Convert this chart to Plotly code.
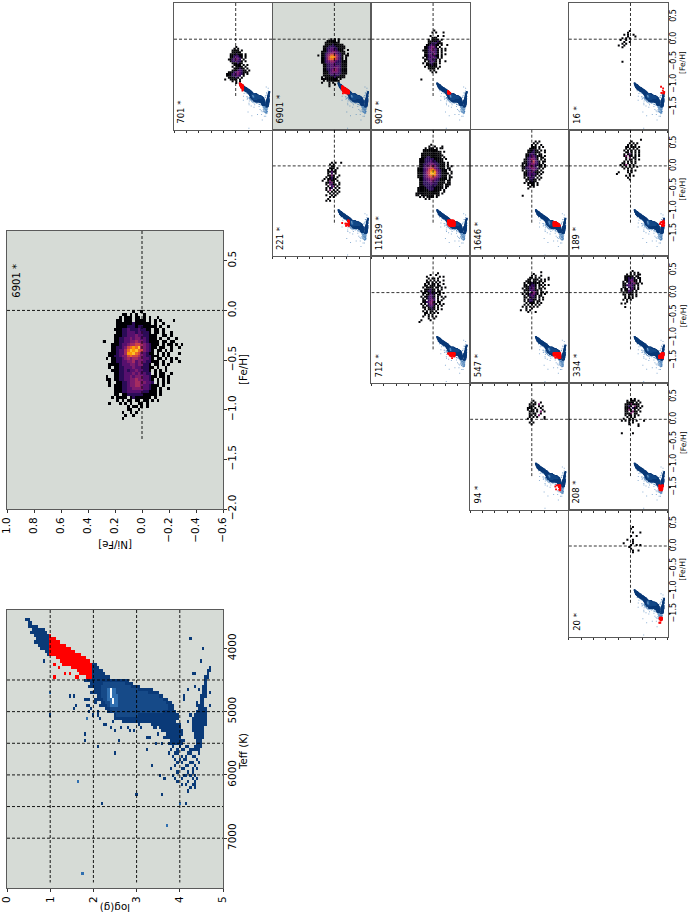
import plotly.graph_objects as go

# HR diagram, giant branch: logg range per Teff row
band_teff = [3550, 3600, 3650, 3700, 3750, 3800, 3850, 3900, 3950, 4000, 4050, 4100, 4150, 4200, 4250, 4300, 4350,
             4400, 4450, 4500, 4550, 4600, 4650, 4700, 4750, 4800, 4850, 4900, 4950, 5000, 5050, 5100, 5150, 5200,
             5250, 5300, 5350, 5400, 5450, 5500]
band_lo = [0.45, 0.50, 0.50, 0.58, 0.55, 0.62, 0.70, 0.65, 0.75, 0.80, 0.90, 0.95, 1.15, 1.25, 1.35, 1.50, 1.65,
           1.70, 1.85, 1.80, 1.95, 1.90, 2.05, 2.00, 2.10, 2.05, 2.20, 2.15, 2.30, 2.35, 2.50, 2.50, 2.70, 3.35,
           3.55, 3.60, 3.70, 3.65, 3.80, 3.75]
band_hi = [0.50, 0.55, 0.70, 0.85, 0.90, 1.00, 1.10, 1.20, 1.35, 1.45, 1.55, 1.70, 1.80, 1.90, 2.05, 2.10, 2.20,
           2.25, 2.35, 2.80, 2.90, 3.05, 3.35, 3.50, 3.60, 3.70, 3.80, 3.85, 3.85, 3.90, 3.95, 3.95, 3.90, 4.00,
           4.00, 4.05, 4.05, 4.00, 4.10, 4.05]

# dwarf branch
dwarf_teff = [4300, 4350, 4400, 4450, 4500, 4550, 4600, 4650, 4700, 4750, 4800, 4850, 4900, 4950, 5000, 5050, 5100,
              5150, 5200, 5250, 5300, 5350, 5400, 5450, 5500, 5550, 5600]
dwarf_lo = [4.68, 4.64, 4.62, 4.60, 4.58, 4.57, 4.55, 4.53, 4.52, 4.50, 4.50, 4.50, 4.45, 4.42, 4.38, 4.33, 4.30,
            4.30, 4.30, 4.30, 4.30, 4.32, 4.35, 4.38, 4.38, 4.35, 4.25]
dwarf_hi = [4.72, 4.72, 4.68, 4.66, 4.64, 4.63, 4.62, 4.62, 4.60, 4.60, 4.58, 4.58, 4.58, 4.60, 4.60, 4.60, 4.62,
            4.60, 4.60, 4.58, 4.58, 4.55, 4.55, 4.52, 4.50, 4.50, 4.45]

# denser parts of the giant branch
mid_teff = [4550, 4600, 4650, 4700, 4750, 4800, 4850, 4900, 4950, 5000, 5050]
mid_lo = [2.25, 2.20, 2.20, 2.20, 2.20, 2.25, 2.30, 2.35, 2.40, 2.45, 2.55]
mid_hi = [2.70, 2.85, 3.00, 3.25, 3.50, 3.60, 3.65, 3.70, 3.70, 3.60, 3.00]
peak_teff = [4650, 4700, 4750, 4800, 4850, 4900]
peak_lo = [2.35, 2.33, 2.33, 2.35, 2.38, 2.40]
peak_hi = [2.50, 2.52, 2.55, 2.55, 2.55, 2.55]
clump_teff = [4650, 4700, 4750, 4800, 4850]
clump_logg = [2.40, 2.40, 2.40, 2.45, 2.45]

# isolated stars
out_logg = [2.19, 3.00, 3.58, 4.17, 2.50, 2.60, 2.10, 1.80, 1.78, 4.25, 4.53, 4.52, 4.18,
            4.39, 4.12, 4.31, 4.70, 1.53, 1.46, 1.57, 1.61, 1.80, 1.88, 1.92, 0.98, 0.84, 1.09, 2.00,
            2.11, 2.16, 2.30, 2.46, 2.60, 2.80, 2.96, 3.08, 3.23, 3.43, 3.23, 3.31, 3.46, 3.60, 3.23, 3.37, 3.54,
            3.67, 3.81, 3.89, 3.77, 3.92, 4.04, 4.16, 4.27, 4.39, 4.35, 4.20,
            1.84, 1.90, 1.83, 1.94, 1.96, 2.04, 2.10, 2.15, 2.23, 2.38, 2.50, 2.65, 2.87, 3.06, 3.25, 3.38, 3.50,
            3.64, 4.35, 4.36, 4.10, 4.43, 4.72, 4.72, 4.39, 4.27, 4.20, 4.31,
            1.12, 1.20, 1.28, 1.35, 1.45, 1.58, 1.65,
            3.85, 4.00, 4.15, 4.20, 4.40, 3.80, 3.95, 4.05, 4.10, 4.30, 4.35, 3.90, 3.95, 4.20, 4.25, 4.45, 3.85,
            4.05, 4.15, 4.30, 4.35, 4.00, 4.10, 4.15, 4.40, 3.95, 4.05, 4.25, 4.30, 4.45, 3.90, 4.15, 4.20, 4.35,
            4.05, 4.10, 4.30, 4.40, 3.95, 4.20, 4.30, 3.85, 4.10, 4.15, 4.35, 4.05, 4.30, 4.40, 3.95, 4.20, 4.35,
            4.15, 4.30, 4.25, 4.35]
out_teff = [6440, 6310, 6310, 6470, 5670, 5460, 5560, 5460, 5330, 3870, 3980, 4220, 4630,
            4880, 4800, 4380, 4700, 4960, 4750, 4760, 4900, 4800, 4905, 4985, 5060, 4200, 4450, 5040,
            5000, 5100, 5210, 5160, 5110, 5240, 5290, 5270, 5160, 5240, 5400, 5420, 5480, 5510, 5610, 5870, 5980,
            6070, 5900, 5770, 5660, 6060, 6140, 6170, 5990, 6060, 6170, 6250,
            4800, 4815, 4900, 4710, 4940, 4850, 5030, 5120, 5190, 5240, 5295, 5270, 5320, 5215, 5400, 5240, 5370,
            5160, 4420, 4580, 4765, 4660, 4715, 4925, 4845, 5030, 5130, 5290,
            4230, 4300, 4260, 4390, 4400, 4430, 4470,
            5550, 5550, 5550, 5550, 5550, 5600, 5600, 5600, 5600, 5600, 5600, 5650, 5650, 5650, 5650, 5650, 5700,
            5700, 5700, 5700, 5700, 5750, 5750, 5750, 5750, 5800, 5800, 5800, 5800, 5800, 5850, 5850, 5850, 5850,
            5900, 5900, 5900, 5900, 5950, 5950, 5950, 6000, 6000, 6000, 6000, 6050, 6050, 6050, 6100, 6100, 6100,
            6150, 6150, 6200, 6200]
pale_logg = [1.77, 1.65, 3.98, 3.68, 1.00, 1.83]
pale_teff = [7540, 6090, 6470, 6800, 4700, 5120]

# abundance histograms, one string per [Fe/H] bin, level 1-9, blank = empty
grid_big = [
    "           1  1                 ",
    "       11 1 1  1                ",
    "      1 111 11 1 1  1           ",
    "     11 111 1111 1 1 1    1     ",
    "     1111112111111 1  1         ",
    "     111122212211111 1  1       ",
    "    11122322232211 11 1         ",
    "     1122333233221 11 1  1      ",
    "    1112233343322111  11 1      ",
    "    1122334344332111 1  1  1    ",
    "1   11223344544321111 11 11     ",
    "   111233455665432111 1 11 1 1  ",
    "   11223467879543211 11  1  1   ",
    "   1123357989764321 11 1 1      ",
    "  11123358897643211 1 1 1   1   ",
    "  1122344676654322111 1 1       ",
    " 1 1122345455443321 11 1 1 1    ",
    "   112233445344322111 1  1  1   ",
    "  1111233344344221 11 1 1       ",
    "  1 112233343332211 1  1        ",
    "   111223233433221 1 1 1        ",
    "    11223334343322 1 11  1      ",
    " 1  1122334344433211 11 1       ",
    " 11 112233445443321 1 1 1       ",
    "  1  11223445544332 1 1 1       ",
    "  1 11122344554332111 1         ",
    "    1112233444433211 1  1       ",
    "    1112233333322111 1          ",
    "    11 1122222211111 1          ",
    "   1 1111 12111111 1            ",
    "     1 1 11 11 11 1 1           ",
    "  1   1 1 1  11 1               ",
    "         1 11 1 1               ",
    "         11  1                  ",
    "       1  1 1                   ",
    "        1  1                    ",
    "       1                        ",
]
grid_701 = [
    "      1       ", "     1 1      ", "    1111 1    ", "    11111     ", "   1112111 1  ",
    "   1123211 1  ", "   1123321 1  ", "  1123432 1   ", "   1223221 1  ", "    111211    ",
    "     1111 1 1 ", "    1 1111 1  ", "     111211 1 ", "    11123211 1", "  11123432111 ",
    " 1112334321 1 ", " 11122332 1   ", "  111121 1    ", "1  1111 1     ", "    1 1 1     ",
    "      1       ",
]
grid_6901 = [
    "       1 1 1     ", "     11111 1     ", "    11111111     ", "    1111211111   ", "   111222211111  ",
    "   112233221111  ", "   11233332111  1", "  1112334432111  ", "  1123455432211 1", "1 112457765321 11",
    "  112468875321 1 ", "  112467765321 1 ", "  11234554322111 ", "  11233443222111 ", "   1122333222111 ",
    "   1122333332111 ", "   1122334432111 ", "   1122345432111 ", "   1112344432111 ", "   1112333322111 ",
    "   111122222111  ", "  1 11111211111  ", "  111111111 1    ", "   1 1111111     ", "  1   1 1  1     ",
    "      1  1       ", "      1          ",
]
grid_907 = [
    "       1       ", "      1 1   1  ", "               ", "     1   1  1  ", "      111      ",
    "    1 1111 1   ", "    1111121    ", "    11222111   ", "   1123211 1  1", "  1123431 1    ",
    "  11234321 1 1 ", " 111234321 1 1 ", "  11223321 1   ", "  11232421 1 1 ", "  11233211 1   ",
    " 1 1223321 1   ", "  1123221 1    ", "  1 12321 1  1 ", " 1 112211 1    ", "   111211      ",
    "  1 11111 1    ", "    1111 1     ", "     1 1       ", "      1 1      ", "               ",
    "               ", "               ", "1              ",
]
grid_16 = [
    "      1   ", "     1    ", "   1 1  1 ", "     1   1", "  1 1 1   ", " 1  1     ", "   1  1   ",
    "  1 1     ", "1  1      ", "  1       ", "          ", "          ", "          ", "          ",
    "          ", "          ", "          ", "  1       ",
]
grid_221 = [
    "     1 1  1", "    1 1    ", "     11    ", "    111 1  ", "   1 1 1   ", "   11311   ",
    "   1 2 1   ", "   1141  1 ", "  1 121 1  ", " 1 11211   ", "1  1411 1  ", "  11241  1 ",
    "  1 4211 1 ", "   1 24 1  ", "  1 12 1 1 ", "  1 4 1 1  ", "   1 1 1 1 ", "    1 1 1  ",
    "  1  1 1   ", "    1 1    ", "   1       ", "  1 1      ",
]
grid_11639 = [
    "        1           ", "       1  1   1     ", "     1 111 1 11     ", "    11111111        ",
    "    1111111111 1    ", "   11111111111      ", "   111111111111     ", "   11122111111 1    ",
    "  1112222211111 1   ", "  1112223221111     ", "  11122333221111 1  ", "  11223344322111 1  ",
    "  11233454432111 1 1", " 111234566432111 11 ", " 1112346786432111 1 ", " 1112356898532111  1",
    " 11123569985321111 1", " 1112346787532111 1 ", " 1112345665432111 11", "  112334554321111 1 ",
    "  11223344322111 11 ", "  11222333221111 11 ", "  1122223222111 111 ", "  1112222221111 11  ",
    " 11111222211111 1   ", " 1111112221111 1    ", " 111111111111  1    ", "1111111111111 1     ",
    "11 1111111 11       ", "  1 1 1111 1        ", "     1 1            ",
]
grid_1646 = [
    "        1 1    ", "       1 1     ", "      1 1  1   ", "      111 1 1  ", "     1111 1    ",
    "    111211 1 1 ", "    1122111  1 ", "   112321 11   ", "   112432111 1 ", "   1233421 11  ",
    "  11235431 1 1 ", "  112346321 11 ", " 1112345321 1  ", " 1 123442211 1 ", " 11234532 11 1 ",
    " 1122344321 1  ", " 1 1223421 1   ", "  112342111 1  ", "  11232321 1   ", "  1123221 1    ",
    "  1 1232 1 1   ", "   112211 1    ", "   1 1211      ", "  1 1111 1     ", "    1 11 1     ",
    "     1 1       ", "    1          ", "               ", "               ", "               ",
    " 1             ",
]
grid_189 = [
    "             1 ", "        1      ", "       1 1 1   ", "      1 1 1    ", "     11 111 1  ",
    "     1 1 1 1   ", "    1 1 1 1 1  ", "     11 1 1 1  ", "    1 131 1 1  ", "    14 11 1 1  ",
    "     1 4 11    ", "     1 11 1 1  ", "    1 1 1 1    ", "   11 1 1 1    ", "  1 14 1 1     ",
    "   1 1 1 1 1   ", "    1 1 1      ", "      1 1 1    ", " 1    1 1      ", "1      1       ",
    "     1 1 1     ", "      1        ", "       1       ",
]
grid_712 = [
    "          1    ", "      1  1     ", "    1      1 1 ", "     1 11 1    ", "    1 1 1 1  1 ",
    "    11 1 1 1   ", "   1 1 11 1  1 ", "   11 111 11   ", "  1 1111 11 1 1", "   111211 1 1  ",
    " 1 112211 11   ", "  11 12121 1 1 ", "  1 11321 11   ", " 1 112321 1 1 1", "  1 12332 1  1 ",
    "  11 2342 1 1  ", "  1123441 11   ", " 1 1 24421 1 1 ", "  1 12331 1 1  ", "  11 1221 1    ",
    "   1 1121 1 1  ", "  1 1 11 1     ", "   11 1 1 1    ", "   1 1 1       ", "  1  1 1 1     ",
    "     1  1      ", " 1    1        ", "1              ",
]
grid_547 = [
    "           1     ", "       1         ", "      1 1  1     ", "     11 1 1    1 ", "    11 111 1 1 1 ",
    "   111 11 11 1   ", "  1 1121111 1    ", "  11 1221 11 1 1 ", "  1112321 1 1    ", " 1 112331 11 1   ",
    "  11123211 1     ", "  1 1 2431 11 1  ", " 1 1123421 1 1   ", "  1 12321 11     ", "  11 1321 1 1    ",
    "  1 12211 1 1    ", "  1 1221 11      ", "   1 111 1 1     ", "  1 1 1 1 1      ", " 1 1 1 1 1       ",
    "   1  1          ", "1  1 1           ", "    1   1        ",
]
grid_334 = [
    "      1     ", "     1 1 1  ", "   1 1 1 11 ", "  11111 11  ", "  112121 11 ", "  1123311 1 ",
    " 1 123411 1 ", " 11 232411 1", " 1123321 1  ", " 11 2321 1  ", "1 11 231 1  ", "1 11321 1   ",
    " 1 1221 1   ", " 11 111 1   ", "  1 1 1 1   ", "  1 1 1     ", " 1 1 1      ", "   1        ",
    "1 1         ", "            ", "  1         ",
]
grid_94 = [
    "     1      ", "    1 1  1  ", "   1 11 4   ", "   111  1 1 ", "  111 1  1  ", "  1 11 1  1 ",
    "   111 1 4 1", "   1 11  1  ", "   11 1 4   ", "   1 1 1   1", "  1 1      1", "    1       ",
    "   1 1      ", "    1       ",
]
grid_208 = [
    "      1 1     ", "    1 111 1   ", "    1111 1 1  ", "   11141111   ", "   1121 411 1 ", "   111 211 1  ",
    "   1141 1 1   ", "   11 1411 1  ", "   1114 11    ", "   1 11 1 1   ", "    1 1 1     ", "  1  1 1      ",
    " 1 1 1 1 1   1", "     1 1      ", "     1    1   ", "          1   ", "              ", "              ",
    "              ", " 1     1      ",
]
grid_20 = [
    "      1     ", "     1      ", "            ", "      1   1 ", "            ", "     1  1   ",
    "            ", "   1  1     ", "      1     ", " 1    1     ", "     1  1 1 ", "    1       ",
    "     1      ", "      1  1  ", "      1     ",
]

# one entry per small panel
panel_labels = ["701 *", "6901 *", "907 *", "16 *", "221 *", "11639 *", "1646 *", "189 *",
                "712 *", "547 *", "334 *", "94 *", "208 *", "20 *"]
panel_logg_lo = [0, 1, 2, 4, 1, 2, 3, 4, 2, 3, 4, 3, 4, 4]
panel_teff_lo = [3000, 3000, 3000, 3000, 4500, 4500, 4500, 4500, 5000, 5000, 5000, 5500, 5500, 6000]
panel_grids = [grid_701, grid_6901, grid_907, grid_16, grid_221, grid_11639, grid_1646, grid_189,
               grid_712, grid_547, grid_334, grid_94, grid_208, grid_20]
grid_nife_left = [0.17, 0.26, 0.19, 0.19, 0.19, 0.27, 0.177, 0.22, 0.22, 0.177, 0.145, 0.123, 0.17, 0.14]
grid_feh_top = [-0.17, 0.0, 0.19, 0.18, 0.07, 0.47, 0.54, 0.58, 0.43, 0.45, 0.48, 0.41, 0.45, 0.42]

teff_grid_lines = [4500, 5000, 5500, 6000, 6500, 7000]
logg_grid_lines = [1, 2, 3, 4]

FONT = "DejaVu Sans"
W, H = 690, 914
PANEL_BG = "#d6dbd6"
FRAME = "#5a5a5a"
LOGG_RANGE = [0, 5]
TEFF_RANGE = [7787, 3394]
NIFE_RANGE = [-0.6, 1.0]
FEH_RANGE = [-2.0, 0.8]
COL_X = [174, 272.7, 371.4, 470.1, 568.8]
ROW_Y = [3, 129.7, 256.4, 383.1, 509.8]
TEFF_ROWS = [3000, 4500, 5000, 5500, 6000]
CELL_W, CELL_H = 98.7, 126.7

inferno = [[0, "#000004"], [0.125, "#2a0b57"], [0.25, "#56106e"], [0.375, "#7d1c6d"], [0.5, "#a52c60"],
           [0.625, "#d04545"], [0.75, "#ed6925"], [0.875, "#fb9b06"], [1, "#fcc229"]]
hr_scale = [[0, "#0a3a78"], [0.25, "#164a88"], [0.5, "#2f6fb0"], [0.75, "#b5d4ea"], [1, "#f4fafd"]]

# HR histogram cells
logg_bins = [round(i * 0.05, 2) for i in range(101)]
teff_bins = [3400 + 50 * i for i in range(89)]


def fill_rows(z, teffs, los, his, level):
    for t, lo, hi in zip(teffs, los, his):
        row = z[teff_bins.index(t)]
        for j, g in enumerate(logg_bins):
            if lo <= g <= hi:
                row[j] = level


def put_cells(z, loggs, teffs, level):
    for g, t in zip(loggs, teffs):
        i = min(range(len(teff_bins)), key=lambda k: abs(teff_bins[k] - t))
        j = min(range(len(logg_bins)), key=lambda k: abs(logg_bins[k] - g))
        if z[i][j] is None:
            z[i][j] = level


hr_z = [[None] * len(logg_bins) for _ in teff_bins]
fill_rows(hr_z, band_teff, band_lo, band_hi, 1)
fill_rows(hr_z, dwarf_teff, dwarf_lo, dwarf_hi, 1)
fill_rows(hr_z, mid_teff, mid_lo, mid_hi, 2)
fill_rows(hr_z, peak_teff, peak_lo, peak_hi, 3)
fill_rows(hr_z, clump_teff, clump_logg, clump_logg, 5)
inset_z = [list(r) for r in hr_z]
put_cells(hr_z, out_logg, out_teff, 1)
put_cells(hr_z, pale_logg, pale_teff, 3)


def red_cells(logg_lo, teff_lo):
    teff_hi = 4500 if teff_lo < 4500 else teff_lo + 500
    return [[1 if v is not None and logg_lo <= g < logg_lo + 1 and teff_lo <= t < teff_hi else None
             for g, v in zip(logg_bins, row)] for t, row in zip(teff_bins, hr_z)]


def xdom(x0, x1):
    return [x0 / W, x1 / W]


def ydom(y0, y1):
    return [1 - y1 / H, 1 - y0 / H]


fig = go.Figure()
layout = {}


def add_big_hr(logg_lo, teff_lo):
    fig.add_trace(go.Heatmap(z=hr_z, x=logg_bins, y=teff_bins, xaxis="x", yaxis="y", zmin=1, zmax=5,
                             colorscale=hr_scale, showscale=False, hoverinfo="skip"))
    fig.add_trace(go.Heatmap(z=red_cells(logg_lo, teff_lo), x=logg_bins, y=teff_bins, xaxis="x", yaxis="y",
                             zmin=0, zmax=1, colorscale=[[0, "#ff0000"], [1, "#ff0000"]], showscale=False,
                             hoverinfo="skip"))


def add_inset_hr(n, logg_lo, teff_lo):
    sx = f"x{n}"
    sy = f"y{n}"
    gx, gy, lev = [], [], []
    for t, row in zip(teff_bins, inset_z):
        for g, v in zip(logg_bins, row):
            if v is not None:
                gx.append(g)
                gy.append(t)
                lev.append(v)
    fig.add_trace(go.Scatter(x=out_logg + pale_logg, y=out_teff + pale_teff, xaxis=sx, yaxis=sy, mode="markers",
                             marker=dict(color="#2f6fb0", size=1.0, symbol="square", opacity=0.55, line_width=0),
                             hoverinfo="skip"))
    fig.add_trace(go.Scatter(x=gx, y=gy, xaxis=sx, yaxis=sy, mode="markers",
                             marker=dict(color=lev, cmin=1, cmax=5, colorscale=hr_scale, size=1.6, symbol="square",
                                         line_width=0), hoverinfo="skip"))
    red = red_cells(logg_lo, teff_lo)
    rx = [g for row in red for g, v in zip(logg_bins, row) if v]
    ry = [t for t, row in zip(teff_bins, red) for v in row if v]
    fig.add_trace(go.Scatter(x=rx, y=ry, xaxis=sx, yaxis=sy, mode="markers",
                             marker=dict(color="#ff0000", size=1.8, symbol="square", line_width=0),
                             hoverinfo="skip"))


def add_big_abundance(rows, left, top, dx, dy):
    ncol = max(len(r) for r in rows)
    z = [[int(c) if c != " " else None for c in r.ljust(ncol)] for r in rows]
    xs = [left - i * dx for i in range(ncol)]
    ys = [top - i * dy for i in range(len(rows))]
    fig.add_trace(go.Heatmap(z=z, x=xs, y=ys, xaxis="x2", yaxis="y2", zmin=1, zmax=9, colorscale=inferno,
                             showscale=False, hoverinfo="skip"))


def add_small_abundance(n, rows, left, top, dx, dy):
    xs, ys, lev = [], [], []
    for i, r in enumerate(rows):
        for j, c in enumerate(r):
            if c != " ":
                xs.append(left - j * dx)
                ys.append(top - i * dy)
                lev.append(int(c))
    fig.add_trace(go.Scatter(x=xs, y=ys, xaxis=f"x{n}", yaxis=f"y{n}", mode="markers",
                             marker=dict(color=lev, cmin=1, cmax=9, colorscale=inferno, size=2.0, symbol="square",
                                         line_width=0), hoverinfo="skip"))


def background(n, xr, yr):
    xref = "x" if n == 1 else f"x{n}"
    yref = "y" if n == 1 else f"y{n}"
    fig.add_shape(type="rect", xref=xref, yref=yref, x0=xr[0], x1=xr[1], y0=yr[0], y1=yr[1],
                  fillcolor=PANEL_BG, line_width=0, layer="below")


def dashed(n, x0, x1, y0, y1, width=0.9):
    xref = "x" if n == 1 else f"x{n}"
    yref = "y" if n == 1 else f"y{n}"
    fig.add_shape(type="line", xref=xref, yref=yref, x0=x0, x1=x1, y0=y0, y1=y1,
                  line=dict(color="black", width=width, dash="3px,2px"))


def text_at(px, py, s, size, angle, xa="center", ya="middle"):
    fig.add_annotation(x=px / W, y=1 - py / H, xref="paper", yref="paper", text=s, showarrow=False,
                       textangle=angle, xanchor=xa, yanchor=ya,
                       font=dict(family=FONT, size=size, color="black"))


axis_base = dict(showgrid=False, zeroline=False, showline=True, mirror=True, linecolor=FRAME, ticks="outside",
                 tickcolor="#333333", ticklen=3, tickwidth=0.7, tickangle=-90, fixedrange=True, tickmode="array",
                 automargin=False, tickfont=dict(family=FONT, size=10.5, color="black"))

# big HR panel
add_big_hr(1, 3000)
layout["xaxis"] = dict(axis_base, domain=xdom(7, 223), range=LOGG_RANGE, anchor="y",
                       tickvals=[0, 1, 2, 3, 4, 5], ticktext=["0", "1", "2", "3", "4", "5"], linewidth=1.2)
layout["yaxis"] = dict(axis_base, domain=ydom(610, 888), range=TEFF_RANGE, anchor="x", side="right",
                       tickvals=[4000, 5000, 6000, 7000], ticktext=["4000", "5000", "6000", "7000"], linewidth=1.2,
                       ticklabelstandoff=-4)
background(1, LOGG_RANGE, TEFF_RANGE)
for t in teff_grid_lines:
    dashed(1, LOGG_RANGE[0], LOGG_RANGE[1], t, t)
for g in logg_grid_lines:
    dashed(1, g, g, TEFF_RANGE[1], 7700)

# big abundance panel
add_big_abundance(grid_big, 0.28, -0.01, 0.02, 0.03)
nife_ticks = [-0.6, -0.4, -0.2, 0.0, 0.2, 0.4, 0.6, 0.8, 1.0]
feh_ticks = [-2.0, -1.5, -1.0, -0.5, 0.0, 0.5]
layout["xaxis2"] = dict(axis_base, domain=xdom(7, 223), range=NIFE_RANGE[::-1], anchor="y2", tickvals=nife_ticks,
                        ticktext=[f"{v:.1f}".replace("-", "\u2212") for v in nife_ticks], linewidth=1.2)
layout["yaxis2"] = dict(axis_base, domain=ydom(231, 509), range=FEH_RANGE, anchor="x2", side="right",
                        tickvals=feh_ticks, ticktext=[f"{v:.1f}".replace("-", "\u2212") for v in feh_ticks],
                        linewidth=1.2, ticklabelstandoff=-4)
background(2, NIFE_RANGE[::-1], FEH_RANGE)
dashed(2, NIFE_RANGE[1], NIFE_RANGE[0], 0, 0)
dashed(2, 0, 0, FEH_RANGE[1], -1.3)

# small panels
n = 3
for label, logg_lo, teff_lo, rows, left, top in zip(panel_labels, panel_logg_lo, panel_teff_lo, panel_grids,
                                                    grid_nife_left, grid_feh_top):
    col = logg_lo
    row = TEFF_ROWS.index(teff_lo)
    x0 = COL_X[col]
    y0 = ROW_Y[row]
    right_col = col == 4
    add_small_abundance(n, rows, left, top, 0.03, 0.04)
    layout[f"xaxis{n}"] = dict(axis_base, domain=xdom(x0, x0 + CELL_W), range=NIFE_RANGE[::-1], anchor=f"y{n}",
                               tickvals=nife_ticks, showticklabels=False, ticklen=2, tickwidth=0.6)
    layout[f"yaxis{n}"] = dict(axis_base, domain=ydom(y0, y0 + CELL_H), range=FEH_RANGE, anchor=f"x{n}",
                               side="right", tickvals=[-1.5, -1.0, -0.5, 0.0, 0.5] if right_col else [],
                               ticktext=["\u22121.5", "\u22121.0", "\u22120.5", "0.0", "0.5"] if right_col else [],
                               ticklen=2, tickwidth=0.6, ticklabelstandoff=-4,
                               tickfont=dict(family=FONT, size=8, color="black"))
    if label == "6901 *":
        background(n, NIFE_RANGE[::-1], FEH_RANGE)
    dashed(n, NIFE_RANGE[1], NIFE_RANGE[0], 0, 0, 0.8)
    dashed(n, 0, 0, FEH_RANGE[1], -1.3, 0.8)
    text_at(x0 + 7.5, y0 + CELL_H - 4, label, 8.5, -90, ya="bottom")
    if right_col:
        text_at(x0 + CELL_W + 15.5, y0 + 60, "[Fe/H]", 7.6, -90)

    # inset HR diagram
    m = n + 1
    add_inset_hr(m, logg_lo, teff_lo)
    layout[f"xaxis{m}"] = dict(domain=xdom(x0 + 62.5, x0 + 97.5), range=LOGG_RANGE, anchor=f"y{m}", visible=False,
                               fixedrange=True, automargin=False)
    layout[f"yaxis{m}"] = dict(domain=ydom(y0 + 78.6, y0 + 128), range=TEFF_RANGE, anchor=f"x{m}", visible=False,
                               fixedrange=True, automargin=False)
    n += 2

text_at(115, 908, "log(g)", 10.3, 180)
text_at(115, 545, "[Ni/Fe]", 10.3, 180)
text_at(243, 752, "Teff (K)", 10.3, -90)
text_at(243, 370, "[Fe/H]", 10.3, -90)
text_at(16.7, 300, "6901 *", 10, -90, ya="bottom")

fig.update_layout(width=W, height=H, autosize=False, margin=dict(l=0, r=0, t=0, b=0), paper_bgcolor="white",
                  plot_bgcolor="rgba(0,0,0,0)", showlegend=False, **layout)

fig.write_html("out.html", config={"displayModeBar": False},
               post_script="document.body.style.margin='0';document.body.style.overflow='hidden';")
